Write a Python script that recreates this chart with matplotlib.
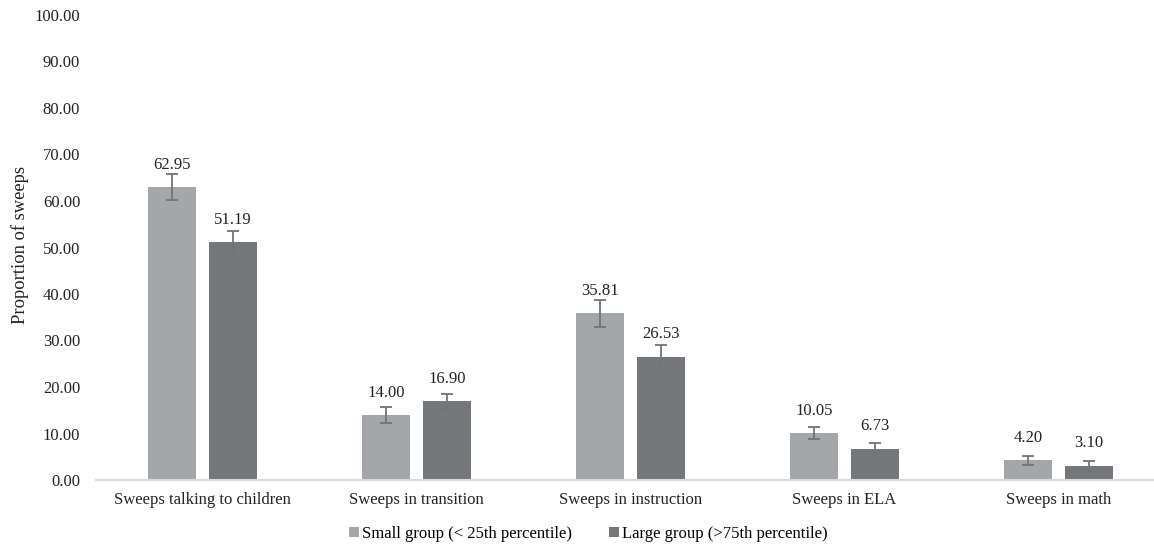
import matplotlib.pyplot as plt
import numpy as np

plt.rcParams['font.family'] = ['Liberation Serif', 'DejaVu Serif']

categories = ['Sweeps talking to children', 'Sweeps in transition',
              'Sweeps in instruction', 'Sweeps in ELA', 'Sweeps in math']
small_group = [62.95, 14.00, 35.81, 10.05, 4.20]
large_group = [51.19, 16.90, 26.53, 6.73, 3.10]
small_err = [2.8, 1.8, 2.85, 1.3, 1.0]
large_err = [2.4, 1.6, 2.5, 1.2, 1.0]
series_names = ['Small group (< 25th percentile)', 'Large group (>75th percentile)']

W, H = 1154, 546
fig = plt.figure(figsize=(W / 100, H / 100), dpi=100)
# plot area runs a bit past the right edge, as in the source image
ax = fig.add_axes([95.5 / W, (H - 480) / H, 1070 / W, 465 / H])

x = np.arange(len(categories))
bw = 48 / 214
gap = 13 / 214
off = (bw + gap) / 2
light = '#a5a6aa'
dark = '#76777b'
ecol = '#737477'
fs = 12

b1 = ax.bar(x - off, small_group, bw, color=light, label=series_names[0],
            yerr=small_err, error_kw=dict(ecolor=ecol, elinewidth=1.3, capsize=4, capthick=1.3))
b2 = ax.bar(x + off, large_group, bw, color=dark, label=series_names[1],
            yerr=large_err, error_kw=dict(ecolor=ecol, elinewidth=1.3, capsize=4, capthick=1.3))

for bars, vals in [(b1, small_group), (b2, large_group)]:
    for rect, v in zip(bars, vals):
        ax.annotate(f'{v:.2f}', (rect.get_x() + rect.get_width() / 2, v),
                    xytext=(0, 16), textcoords='offset points',
                    ha='center', va='center', fontsize=fs, color='#222222')

ax.set_xlim(-0.5, len(categories) - 0.5)
ax.set_ylim(0, 100)
ax.set_yticks(np.arange(0, 101, 10))
ax.set_yticklabels([f'{v:.2f}' for v in np.arange(0, 101, 10)])
ax.set_xticks(x)
ax.set_xticklabels(categories)
ax.tick_params(axis='both', length=0, labelsize=fs, colors='#222222')
ax.tick_params(axis='y', pad=11)
ax.tick_params(axis='x', pad=9)
for s in ['top', 'right', 'left']:
    ax.spines[s].set_visible(False)
ax.spines['bottom'].set_color('#d9d9d9')
ax.spines['bottom'].set_linewidth(1.5)

fig.text(20 / W, (H - 245) / H, 'Proportion of sweeps', rotation=90,
         ha='center', va='center', fontsize=13.3, color='#222222')

fig.legend(handles=[b1, b2], loc='center', bbox_to_anchor=(588 / W, (H - 534) / H),
           ncol=2, frameon=False, fontsize=fs, handlelength=0.6, handleheight=0.6,
           handletextpad=0.2, columnspacing=2.2)

fig.savefig('out.png', dpi=100)
